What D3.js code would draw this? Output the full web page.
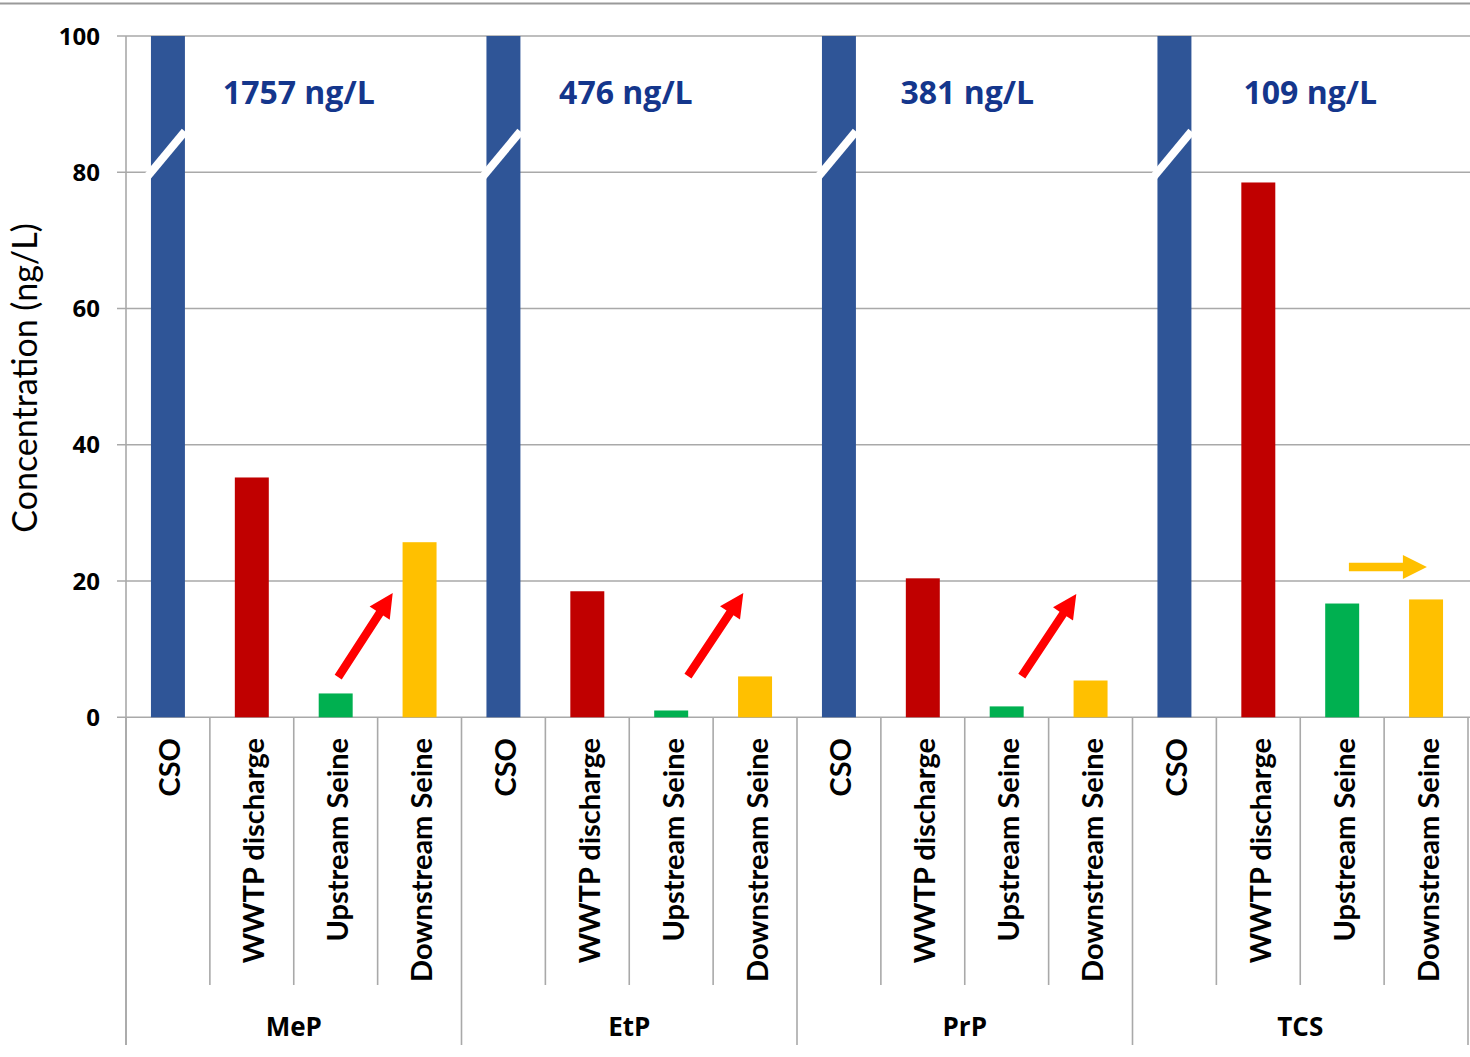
<!DOCTYPE html>
<html><head><meta charset="utf-8">
<script src="https://cdn.jsdelivr.net/npm/d3@7"></script>
<style>body{margin:0;background:#fff} svg{display:block}</style>
</head><body>
<svg id="chart" width="1470" height="1057"></svg>
<script>
const groups = ["MeP","EtP","PrP","TCS"];
const sites = ["CSO","WWTP discharge","Upstream Seine","Downstream Seine"];
const siteColors = ["#2F5597","#C00000","#00B050","#FFC000"];
const csoValues = [1757,476,381,109];
const wwtpValues = [35.2,18.5,20.4,78.5];
const upstreamValues = [3.5,1.0,1.6,16.7];
const downstreamValues = [25.7,6.0,5.4,17.3];
const yTicks = [0,20,40,60,80,100];
const yMax = 100;
const yTitle = "Concentration (ng/L)";
const csoLabels = csoValues.map(v => v + " ng/L");
const csoLabelPos = [2.06,1.96,2.03,2.12];   // centre, in category units within group
const csoLabelValue = 90;
const arrowGroups = ["MeP","EtP","PrP","TCS"];
const arrowX0 = [2.53,2.70,2.68,2.58];
const arrowY0 = [5.9,6.05,6.05,22.05];
const arrowX1 = [3.18,3.36,3.33,3.51];
const arrowY1 = [18.25,18.25,18.1,22.05];
const arrowColors = ["#FF0000","#FF0000","#FF0000","#FFC000"];
const breakFrom = 80, breakTo = 86;

(function(){
const seriesValues = [csoValues, wwtpValues, upstreamValues, downstreamValues];

const svg = d3.select("#chart");
const plotLeft = 126, plotRight = 1468, plotTop = 36, base = 717.3;
const axisBottom = 1045, innerSepBottom = 985;
const fontH = "'Open Sans', Lato, sans-serif";
const fontV = "Lato, 'Open Sans', sans-serif";

const x0 = d3.scaleBand().domain(groups).range([plotLeft, plotRight]);
const p = 0.595;
const x1 = d3.scaleBand().domain(sites).range([0, x0.bandwidth()]).paddingInner(p).paddingOuter(p/2);
const step = x0.bandwidth() / sites.length;
const y = d3.scaleLinear().domain([0, yMax]).range([base, plotTop]);
const gridColor = "#A9A9A9";

// top border
svg.append("line").attr("x1",0).attr("x2",1470).attr("y1",3.5).attr("y2",3.5)
  .attr("stroke","#9a9a9a").attr("stroke-width",2);

// gridlines
svg.append("g").selectAll("line").data(yTicks).join("line")
  .attr("x1", plotLeft - 9).attr("x2", 1470)
  .attr("y1", d => y(d)).attr("y2", d => y(d))
  .attr("stroke", gridColor).attr("stroke-width", 1.6);

// left axis line
svg.append("line").attr("x1",plotLeft).attr("x2",plotLeft).attr("y1",plotTop).attr("y2",axisBottom)
  .attr("stroke",gridColor).attr("stroke-width",1.6);

// y tick labels
svg.append("g").selectAll("text").data(yTicks).join("text")
  .attr("x", 100).attr("y", d => y(d)).attr("dy","0.36em")
  .attr("text-anchor","end").attr("font-family",fontH).attr("font-weight","bold")
  .attr("font-size",24).attr("fill","#000").text(d => d);

// y title
svg.append("text").attr("transform","translate(37,378) rotate(-90)")
  .attr("text-anchor","middle").attr("font-family",fontV).attr("font-size",34)
  .attr("fill","#000").text(yTitle);

// separators
groups.forEach(g => {
  for (let k = 1; k < sites.length; k++) {
    const xx = x0(g) + k*step;
    svg.append("line").attr("x1",xx).attr("x2",xx).attr("y1",base).attr("y2",innerSepBottom)
      .attr("stroke",gridColor).attr("stroke-width",1.6);
  }
});
groups.concat(["__end"]).forEach((g,i) => {
  const xx = i < groups.length ? x0(g) : plotRight;
  svg.append("line").attr("x1",xx).attr("x2",xx).attr("y1",base).attr("y2",axisBottom)
    .attr("stroke",gridColor).attr("stroke-width",1.6);
});

// bars
const barData = [];
groups.forEach((g,gi) => sites.forEach((s,si) => {
  barData.push({g, s, si, v: seriesValues[si][gi]});
}));
svg.append("g").selectAll("rect").data(barData).join("rect")
  .attr("x", d => x0(d.g) + x1(d.s)).attr("width", x1.bandwidth())
  .attr("y", d => y(Math.min(d.v, yMax)))
  .attr("height", d => base - y(Math.min(d.v, yMax)))
  .attr("fill", d => siteColors[d.si]);

// break marks on truncated bars
barData.filter(d => d.v > yMax).forEach(d => {
  const bx = x0(d.g) + x1(d.s), bw = x1.bandwidth();
  const ax = bx, ay = y(breakFrom), bxx = bx + bw, by = y(breakTo);
  const len = Math.hypot(bxx-ax, by-ay), ux = (bxx-ax)/len, uy = (by-ay)/len;
  svg.append("line")
    .attr("x1", ax - ux*10).attr("y1", ay - uy*10)
    .attr("x2", bxx).attr("y2", by)
    .attr("stroke","#fff").attr("stroke-width",8);
});

// CSO value labels
svg.append("g").selectAll("text").data(groups).join("text")
  .attr("x", (g,i) => x0(g) + csoLabelPos[i]*step)
  .attr("y", y(csoLabelValue))
  .attr("text-anchor","middle").attr("font-family",fontH).attr("font-weight","bold")
  .attr("font-size",32).attr("fill","#14368C")
  .text((g,i) => csoLabels[i]);

// arrows
arrowGroups.forEach((g,i) => {
  const tx = x0(g) + arrowX0[i]*step, ty = y(arrowY0[i]);
  const hx = x0(g) + arrowX1[i]*step, hy = y(arrowY1[i]);
  const len = Math.hypot(hx-tx, hy-ty), ux = (hx-tx)/len, uy = (hy-ty)/len;
  const nx = -uy, ny = ux;
  const sw = 4.2, hw = 12, hl = 24;
  const bx = hx - ux*hl, by = hy - uy*hl;
  const pts = [
    [tx + nx*sw, ty + ny*sw],
    [bx + nx*sw, by + ny*sw],
    [bx + nx*hw, by + ny*hw],
    [hx, hy],
    [bx - nx*hw, by - ny*hw],
    [bx - nx*sw, by - ny*sw],
    [tx - nx*sw, ty - ny*sw]
  ];
  svg.append("polygon").attr("points", pts.map(q => q.join(",")).join(" "))
    .attr("fill", arrowColors[i]);
});

// category labels (rotated)
groups.forEach(g => {
  sites.forEach(s => {
    const cx = x0(g) + x1(s) + x1.bandwidth()/2 + 2;
    svg.append("text")
      .attr("transform", `translate(${cx},738) rotate(-90)`)
      .attr("dy","0.36em")
      .attr("text-anchor","end").attr("font-family",fontV).attr("font-weight","bold")
      .attr("font-size",29).attr("fill","#000").text(s);
  });
});

// group labels
svg.append("g").selectAll("text").data(groups).join("text")
  .attr("x", g => x0(g) + x0.bandwidth()/2).attr("y", 1027).attr("dy","0.36em")
  .attr("text-anchor","middle").attr("font-family",fontH).attr("font-weight","bold")
  .attr("font-size",26).attr("fill","#000").text(g => g);
})();
</script>
</body></html>
